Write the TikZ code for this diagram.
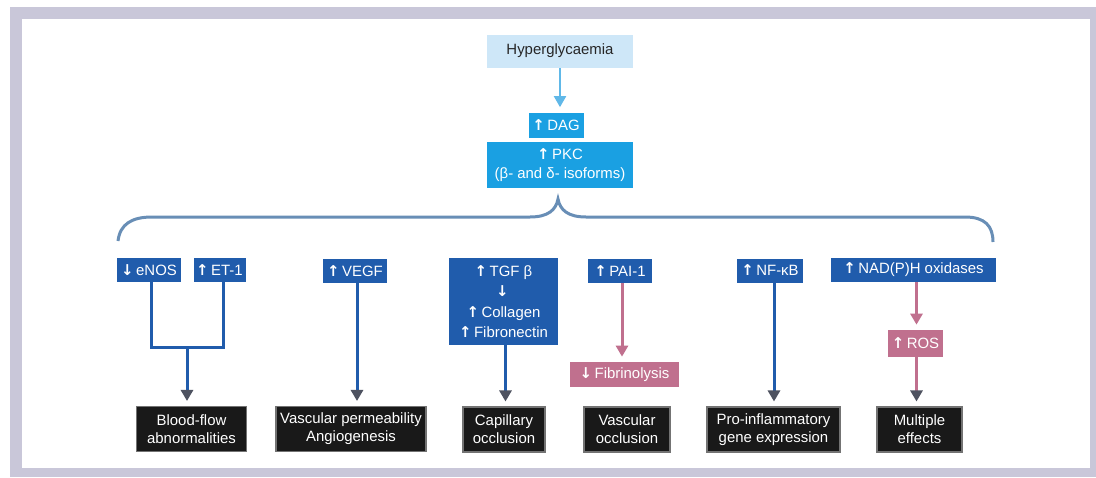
\documentclass[tikz,border=0pt]{standalone}
\usepackage{fontspec}
\setmainfont{Liberation Sans}
\newfontfamily\symfont{DejaVu Sans}
\usetikzlibrary{arrows.meta}
\newdimen\px \px=0.02cm
\definecolor{framegray}{RGB}{201,199,217}
\definecolor{palecyan}{RGB}{206,231,248}
\definecolor{skyblue}{RGB}{96,184,232}
\definecolor{pkcblue}{RGB}{26,160,226}
\definecolor{darkblue}{RGB}{32,92,172}
\definecolor{mauve}{RGB}{192,112,142}
\definecolor{bracecol}{RGB}{104,142,182}
\definecolor{tipgray}{RGB}{78,82,96}
\newcommand\incr{{\symfont\bfseries\char"2191}\,}
\newcommand\decr{{\symfont\bfseries\char"2193}\,}

\begin{document}
\begin{tikzpicture}[x=0.02cm, y=-0.02cm,
  every node/.style={inner sep=0pt, align=center, text=white,
    font=\fontsize{8.5}{11}\selectfont},
  lightbox/.style={fill=palecyan, text=black!85, minimum width=146\px, minimum height=33\px},
  cyanbox/.style={fill=pkcblue, minimum height=25\px},
  bluebox/.style={fill=darkblue, minimum height=24\px},
  pinkbox/.style={fill=mauve, minimum height=25\px},
  blackbox/.style={fill=black!90, draw=black!55, line width=0.6pt, minimum height=45\px,
    font=\fontsize{8.5}{10.2}\selectfont},
  link/.style={draw=darkblue, line width=0.06cm},
  tip/.style={-{Triangle[length=0.22cm, width=0.24cm, color=#1]}, shorten >=0.1cm},
  tip/.default=tipgray]

\fill[framegray] (10,7) rectangle (1096,477);
\fill[white] (22,19) rectangle (1090,468);
\useasboundingbox (0,0) rectangle (1096,477);

\node[lightbox] (hyper) at (560,51) {Hyperglycaemia};
\node[cyanbox, minimum width=55\px] (dag) at (556,125) {\incr DAG};
\node[cyanbox, minimum width=146\px, minimum height=46\px] (pkc) at (560,165)
  {\incr PKC\\(β- and δ- isoforms)};

\draw[bracecol, line width=0.06cm] (118,241) .. controls (120,224) and (132,217) .. (152,217)
  -- (530,217) .. controls (548,217) and (556,210) .. (558,199)
  .. controls (560,210) and (568,217) .. (586,217) -- (965,217)
  .. controls (985,217) and (993,226) .. (993,242);

\node[bluebox, minimum width=64\px] (enos) at (149,270) {\decr eNOS};
\node[bluebox, minimum width=52\px] (et1) at (219.5,270) {\incr ET-1};
\node[bluebox, minimum width=64\px] (vegf) at (355,271) {\incr VEGF};
\node[bluebox, minimum width=109\px, minimum height=87\px,
  font=\fontsize{8.5}{11.5}\selectfont] (tgf) at (503.5,301.5)
  {\incr TGF β\\\decr\\\incr Collagen\\\incr Fibronectin};
\node[bluebox, minimum width=64\px] (pai) at (620,271) {\incr PAI-1};
\node[bluebox, minimum width=66\px] (nfkb) at (770,270.5) {\incr NF-κB};
\node[bluebox, minimum width=165\px] (nadph) at (913.5,270) {\incr NAD(P)H oxidases};

\node[pinkbox, minimum width=109\px] (fibr) at (624.5,374.5) {\decr Fibrinolysis};
\node[pinkbox, minimum width=55\px, minimum height=27\px] (ros) at (915.5,343.5) {\incr ROS};

\node[blackbox, minimum width=110\px] (blood) at (191.5,429) {Blood-flow\\abnormalities};
\node[blackbox, minimum width=150\px] (vperm) at (351,429) {Vascular permeability\\Angiogenesis};
\node[blackbox, minimum width=82\px] (capil) at (504,429.5) {Capillary\\occlusion};
\node[blackbox, minimum width=86\px] (vocc) at (627,429.5) {Vascular\\occlusion};
\node[blackbox, minimum width=133\px] (proinf) at (773.5,429.5) {Pro-inflammatory\\gene expression};
\node[blackbox, minimum width=85\px] (multi) at (919.5,429.5) {Multiple\\effects};

\draw[skyblue, line width=0.04cm, tip=skyblue] (hyper) -- (hyper |- dag.north);

\coordinate (join) at (187,347);
\draw[link] ([xshift=0.04cm]enos.south) |- (join) -| ([xshift=0.07cm]et1.south);
\draw[link, tip] (join) -- (join |- blood.north);
\draw[link, tip] ([xshift=0.04cm]vegf.south) -- ([xshift=0.04cm]vegf.south |- vperm.north);
\draw[link, tip] ([xshift=0.04cm]tgf.south) -- ([xshift=0.04cm]tgf.south |- capil.north);
\draw[link, draw=mauve, tip=mauve] ([xshift=0.04cm]pai.south) -- ([xshift=0.04cm]pai.south |- fibr.north);
\draw[link, tip] ([xshift=0.08cm]nfkb.south) -- ([xshift=0.08cm]nfkb.south |- proinf.north);
\draw[link, draw=mauve, tip=mauve] ([xshift=0.06cm]nadph.south) -- ([xshift=0.06cm]nadph.south |- ros.north);
\draw[link, draw=mauve, tip] ([xshift=0.02cm]ros.south) -- ([xshift=0.02cm]ros.south |- multi.north);
\end{tikzpicture}
\end{document}
